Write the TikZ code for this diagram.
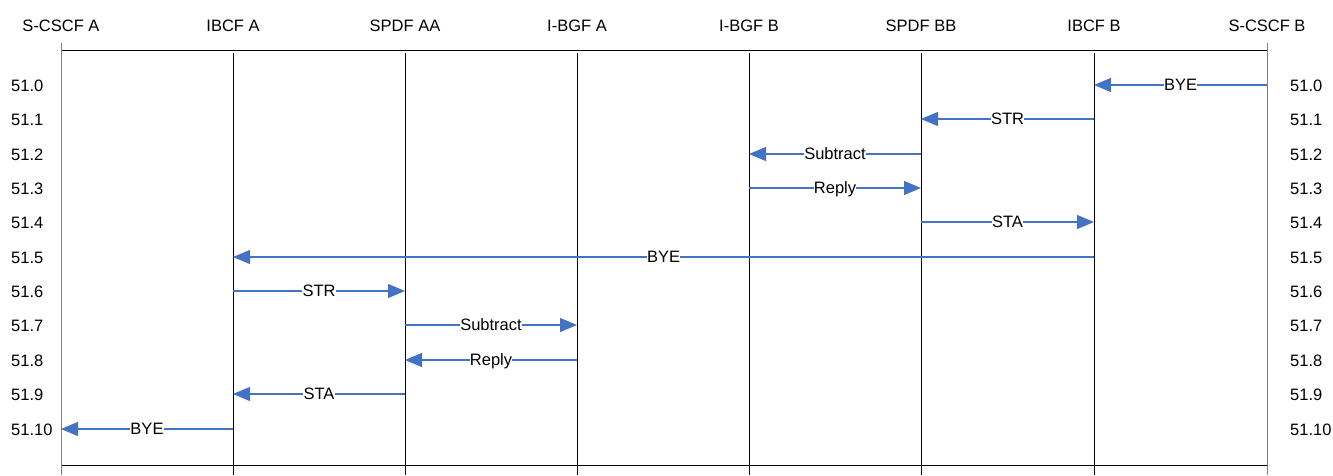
\documentclass[tikz,border=0pt]{standalone}
\usepackage{fontspec}
\setmainfont{Liberation Sans}
\usetikzlibrary{arrows.meta}
\definecolor{msgblue}{HTML}{4472C4}
\definecolor{outergray}{HTML}{7F7F7F}
\tikzset{
  hdr/.style={font=\fontsize{16.5}{18}\selectfont, anchor=base, inner sep=0pt},
  rowlbl/.style={font=\fontsize{16.5}{18}\selectfont, anchor=base west, inner sep=0pt},
  life/.style={draw=black, line width=0.8pt},
  outerlife/.style={draw=outergray, line width=0.8pt},
  msg/.style={draw=msgblue, line width=1.2pt, -{Triangle[length=17pt,width=14pt]}},
  msglbl/.style={font=\fontsize{16.5}{18}\selectfont, fill=white, inner sep=0.3pt, text depth=0pt}
}
\begin{document}
\begin{tikzpicture}[x=1pt,y=-1pt]
\useasboundingbox (0,0) rectangle (1333,475);
% lifeline positions
\foreach \n/\x in {a/61,b/233,c/405,d/577,e/749,f/921,g/1094,h/1267}{
  \coordinate (top\n) at (\x,53);
  \coordinate (bot\n) at (\x,475);
}
% headers
\foreach \n/\x/\t in {a/61/S-CSCF A,b/233/IBCF A,c/405/SPDF AA,d/577/I-BGF A,e/749/I-BGF B,f/921/SPDF BB,g/1094/IBCF B,h/1267/S-CSCF B}{
  \node[hdr] (h\n) at (\x,31) {\t};
}
% frame lines
\coordinate (tl) at (61,50); \coordinate (tr) at (1267,50);
\coordinate (bl) at (61,465); \coordinate (br) at (1267,465);
\draw[life] (tl) -- (tr);
\draw[life] (bl) -- (br);
\draw[outerlife] (61,43) -- (bota);
\draw[outerlife] (1267,43) -- (both);
\foreach \n in {b,c,d,e,f,g}{ \draw[life] (top\n) -- (bot\n); }
% row labels
\foreach \i/\y/\t in {0/85/51.0,1/119/51.1,2/154/51.2,3/188/51.3,4/222/51.4,5/257/51.5,6/291/51.6,7/325/51.7,8/360/51.8,9/394/51.9,10/429/51.10}{
  \node[rowlbl] (l\i) at (11,\y+6) {\t};
  \node[rowlbl] (r\i) at (1290,\y+6) {\t};
}
% messages
\newcommand{\msgline}[5]{% y, from x, to x, label, name
  \coordinate (#5s) at (#2,#1);
  \coordinate (#5e) at (#3,#1);
  \draw[msg] (#5s) -- (#5e) node[midway, msglbl] (#5l) {#4};
}
\msgline{85}{1267}{1094}{BYE}{m0}
\msgline{119}{1094}{921}{STR}{m1}
\msgline{154}{921}{749}{Subtract}{m2}
\msgline{188}{749}{921}{Reply}{m3}
\msgline{222}{921}{1094}{STA}{m4}
\msgline{257}{1094}{233}{BYE}{m5}
\msgline{291}{233}{405}{STR}{m6}
\msgline{325}{405}{577}{Subtract}{m7}
\msgline{360}{577}{405}{Reply}{m8}
\msgline{394}{405}{233}{STA}{m9}
\msgline{429}{233}{61}{BYE}{m10}
\end{tikzpicture}
\end{document}
